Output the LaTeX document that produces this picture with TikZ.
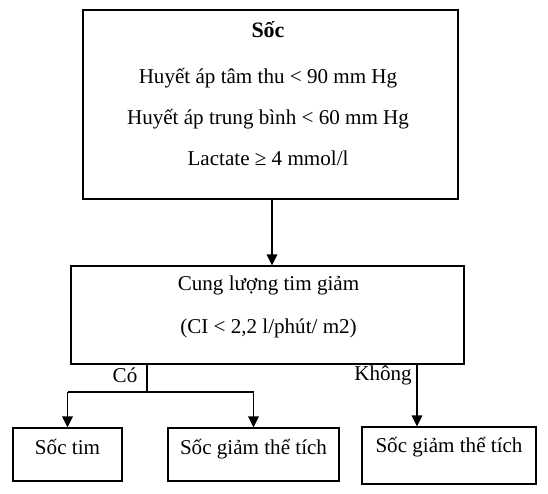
\documentclass[tikz,border=0pt]{standalone}
\usepackage{fontspec}
\setmainfont{Liberation Serif}
\usetikzlibrary{arrows.meta}
\begin{document}
\begin{tikzpicture}[
  box/.style={draw, line width=0.6pt, inner sep=0pt},
  txt/.style={font=\fontsize{12}{23.3}\selectfont, align=center, inner sep=0pt},
  leaf/.style={box, font=\fontsize{12}{14}\selectfont, text height=0.3cm, text depth=0.3cm},
  arr/.style={-{Triangle[length=0.22cm,width=0.21cm]}, line width=1pt},
  lin/.style={line width=0.6pt}]

\useasboundingbox (0,0) rectangle (10.96,-9.88);

\node[box, minimum width=7.5cm, minimum height=3.78cm] (shock) at (5.41,-2.09) {};
\node[txt] (shocktext) at (5.36,-1.87) {\textbf{\fontsize{12.5}{23.3}\selectfont Sốc}\\[0.1cm] Huyết áp tâm thu < 90 mm Hg\\ Huyết áp trung bình < 60 mm Hg\\ Lactate ≥ 4 mmol/l};

\node[box, minimum width=7.86cm, minimum height=1.96cm] (cardiac) at (5.35,-6.3) {};
\node[txt, font=\fontsize{12}{24.5}\selectfont] (cardiactext) at (5.37,-6.13) {Cung lượng tim giảm\\ (CI < 2,2 l/phút/ m2)};

\node[leaf, minimum width=2.18cm, minimum height=1.06cm] (heart) at (1.35,-9.09) {Sốc tim};
\node[leaf, minimum width=3.42cm, minimum height=1.06cm] (hypo) at (5.07,-9.09) {Sốc giảm thể tích};
\node[leaf, text depth=0.4cm, minimum width=3.48cm, minimum height=1.14cm] (hypo2) at (8.98,-9.11) {Sốc giảm thể tích};

\node[txt] (yeslabel) at (2.5,-7.5) {Có};
\node[txt] (nolabel) at (7.66,-7.5) {Không};

\coordinate (yes) at (2.94,-7.84);
\coordinate (no) at (8.34,-7.3);

\draw[arr] ([xshift=0.03cm]shock.south) -- ([xshift=0.03cm]shock.south |- cardiac.north);
\draw[lin] (yes |- cardiac.south) -- (yes);
\draw[lin] (heart.north |- yes) -- (hypo.north |- yes);
\draw[arr] (heart.north |- yes) -- (heart.north);
\draw[arr] (hypo.north |- yes) -- (hypo.north);
\draw[arr] (no |- cardiac.south) -- (no |- hypo2.north);
\end{tikzpicture}
\end{document}
